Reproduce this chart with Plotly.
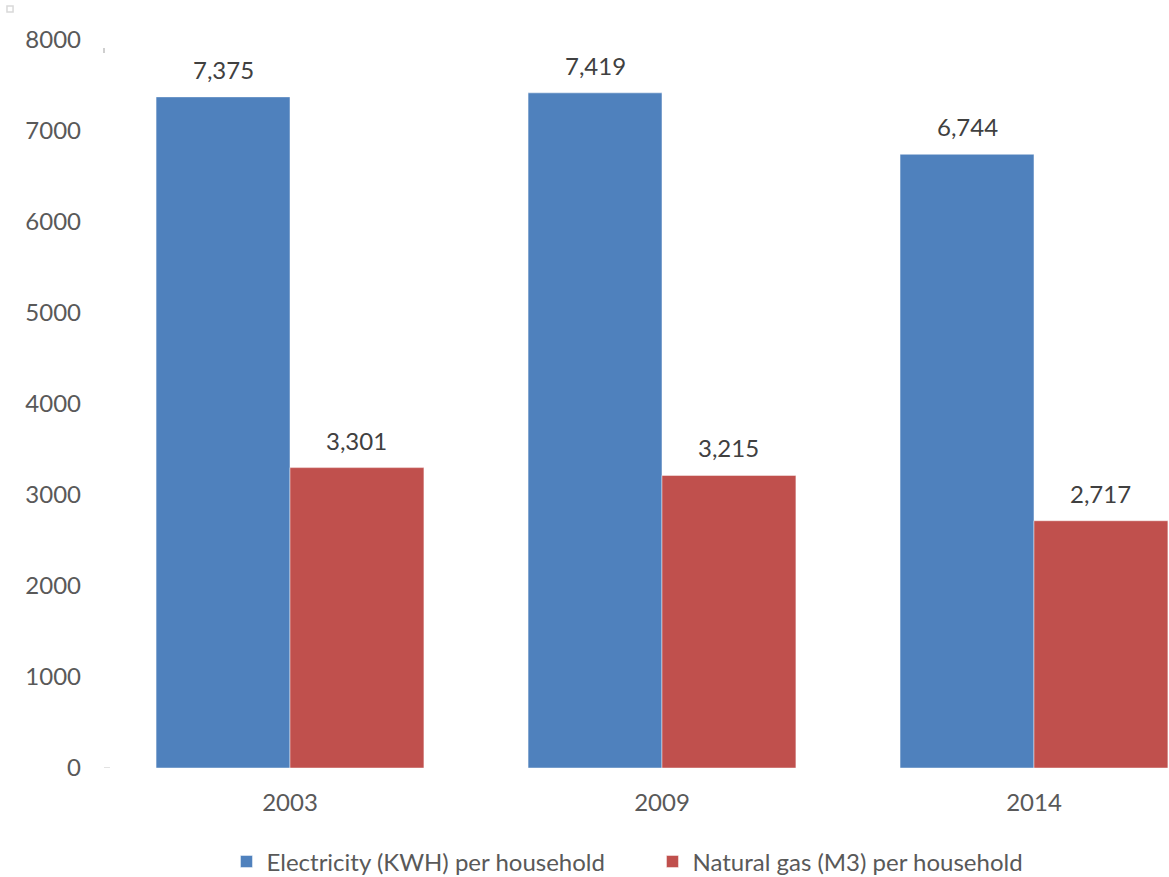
import plotly.graph_objects as go

years = ["2003", "2009", "2014"]
electricity_kwh = [7375, 7419, 6744]
natural_gas_m3 = [3301, 3215, 2717]
y_ticks = [0, 1000, 2000, 3000, 4000, 5000, 6000, 7000, 8000]

series_names = ["Electricity (KWH) per household", "Natural gas (M3) per household"]
colors = ["#4F81BD", "#C0504D"]

FONT = "Lato"
TEXT_GREY = "#595959"
LABEL_GREY = "#404040"

fig = go.Figure()
for name, vals, col in zip(series_names, [electricity_kwh, natural_gas_m3], colors):
    fig.add_trace(go.Bar(
        x=years, y=vals, name=name,
        marker=dict(color=col, line=dict(color="rgba(255,255,255,0.45)", width=1)),
    ))

# value labels above each bar
offsets = [-0.18, 0.18]
for off, vals in zip(offsets, [electricity_kwh, natural_gas_m3]):
    for i, v in enumerate(vals):
        fig.add_annotation(
            x=i + off, y=v, xref="x", yref="y",
            text=f"{v:,}", showarrow=False,
            yanchor="bottom", yshift=11,
            font=dict(family=FONT, size=24, color=LABEL_GREY),
        )

# small decorative marks near the axis
fig.add_shape(type="rect", xref="paper", yref="paper",
              x0=-0.0911, x1=-0.0854, y0=1.0385, y1=1.0467,
              line=dict(color="#d9d9d9", width=1.5), fillcolor="white")
fig.add_shape(type="line", xref="paper", yref="paper",
              x0=0.0, x1=0.0, y0=0.982, y1=0.989,
              line=dict(color="#bfbfbf", width=1.5))
fig.add_shape(type="line", xref="paper", yref="y",
              x0=0.0, x1=0.0056, y0=0, y1=0,
              line=dict(color="#d9d9d9", width=1.5))

fig.update_layout(
    width=1169, height=877,
    margin=dict(l=104, r=0, t=40, b=109, autoexpand=False),
    paper_bgcolor="white", plot_bgcolor="white",
    barmode="group", bargap=0.28, bargroupgap=0,
    font=dict(family=FONT, size=24, color=TEXT_GREY),
    showlegend=True,
    legend=dict(
        orientation="h", x=0.115, y=-0.129, xanchor="left", yanchor="middle",
        font=dict(family=FONT, size=24, color=TEXT_GREY),
        itemwidth=30, entrywidth=381, entrywidthmode="pixels",
        tracegroupgap=0, bgcolor="rgba(0,0,0,0)",
    ),
    xaxis=dict(
        type="category", range=[-0.5, 2.363],
        showline=False, showgrid=False, ticks="",
        tickfont=dict(family=FONT, size=24, color=TEXT_GREY),
        ticklabelstandoff=18,
    ),
    yaxis=dict(
        range=[0, 8000], tickvals=y_ticks, ticktext=[str(t) for t in y_ticks],
        showline=False, showgrid=False, zeroline=False, ticks="",
        tickfont=dict(family=FONT, size=24, color=TEXT_GREY),
        ticklabelstandoff=22,
    ),
)

fig.write_html("out.html")
